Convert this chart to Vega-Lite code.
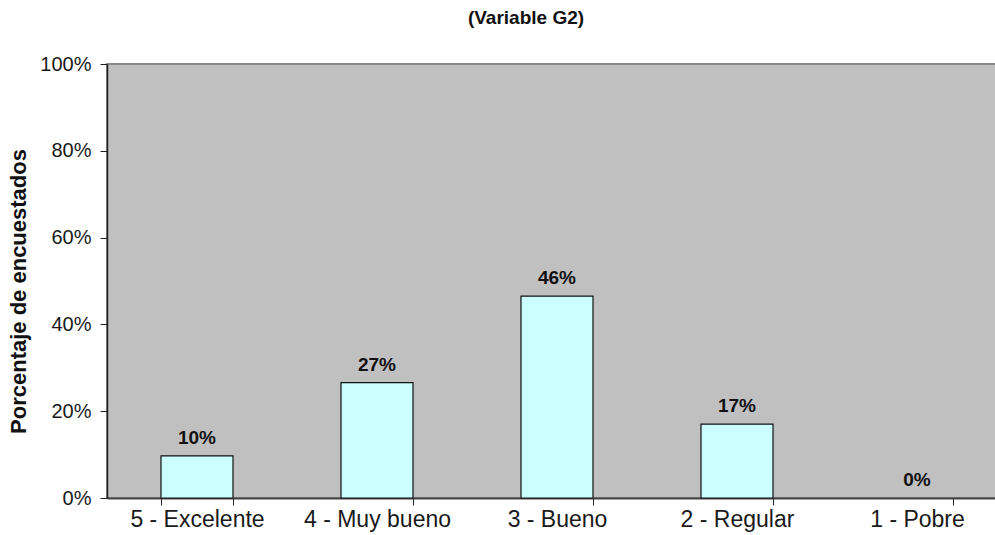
{
  "$schema": "https://vega.github.io/schema/vega-lite/v6.json",
  "autosize": "none",
  "padding": {"left": 107, "top": 64, "right": 0, "bottom": 37},
  "width": 900,
  "height": 434,
  "background": "white",
  "title": {
    "text": "(Variable G2)",
    "font": "Liberation Sans",
    "fontSize": 19,
    "fontWeight": "bold",
    "color": "#111111",
    "anchor": "middle",
    "dx": -31,
    "offset": 26
  },
  "config": {
    "view": {"fill": "#C0C0C0", "stroke": "#888888", "strokeWidth": 2},
    "axis": {"grid": false, "font": "Liberation Sans"}
  },
  "data": {
    "values": [
      {"categoria": "5 - Excelente", "porcentaje": 0.097, "etiqueta": "10%"},
      {"categoria": "4 - Muy bueno", "porcentaje": 0.266, "etiqueta": "27%"},
      {"categoria": "3 - Bueno", "porcentaje": 0.465, "etiqueta": "46%"},
      {"categoria": "2 - Regular", "porcentaje": 0.17, "etiqueta": "17%"},
      {"categoria": "1 - Pobre", "porcentaje": 0.0, "etiqueta": "0%"}
    ]
  },
  "encoding": {
    "x": {
      "field": "categoria",
      "type": "nominal",
      "sort": null,
      "scale": {"paddingInner": 0.6, "paddingOuter": 0.3},
      "axis": {
        "title": null,
        "labelAngle": 0,
        "labelFont": "Liberation Sans",
        "labelFontSize": 23,
        "labelColor": "#1a1a1a",
        "labelPadding": 3,
        "tickBand": "extent",
        "tickSize": 7,
        "tickColor": "#222222",
        "domainColor": "#444444",
        "domainWidth": 2
      }
    },
    "y": {
      "field": "porcentaje",
      "type": "quantitative",
      "scale": {"domain": [0, 1], "nice": false},
      "axis": {
        "title": "Porcentaje de encuestados",
        "titleFont": "Liberation Sans",
        "titleFontSize": 22,
        "titleFontWeight": "bold",
        "titleColor": "#111111",
        "titlePadding": 9,
        "titleY": 227,
        "format": ".0%",
        "values": [0, 0.2, 0.4, 0.6, 0.8, 1],
        "labelFont": "Liberation Sans",
        "labelFontSize": 20,
        "labelColor": "#1a1a1a",
        "labelPadding": 9,
        "tickSize": 7,
        "tickColor": "#222222",
        "domainColor": "#222222",
        "domainWidth": 1.5
      }
    }
  },
  "layer": [
    {
      "transform": [{"filter": "datum.porcentaje > 0"}],
      "mark": {"type": "bar", "fill": "#CCFFFF", "stroke": "#111111", "strokeWidth": 1.2}
    },
    {
      "mark": {
        "type": "text",
        "baseline": "bottom",
        "dy": -8,
        "font": "Liberation Sans",
        "fontSize": 19,
        "fontWeight": "bold",
        "color": "#111111"
      },
      "encoding": {"text": {"field": "etiqueta"}}
    }
  ]
}
